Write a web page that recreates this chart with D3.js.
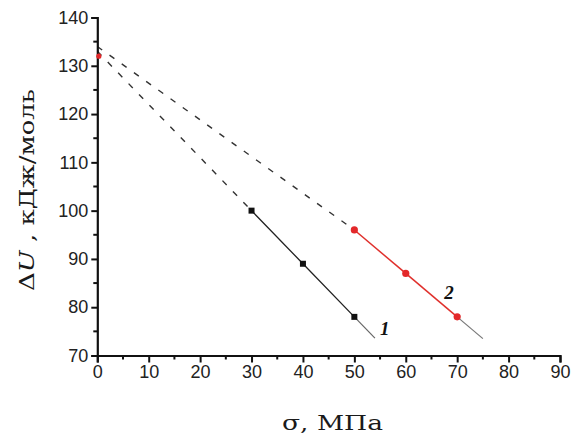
<!DOCTYPE html>
<html>
<head>
<meta charset="utf-8">
<script src="https://cdn.jsdelivr.net/npm/d3@7"></script>
<style>
  html, body { margin: 0; padding: 0; background: #fff; }
  svg { display: block; }
</style>
</head>
<body>
<svg id="chart" width="571" height="436"></svg>
<script>
// Series 1: measured points (black squares)
const stress1 = [30, 40, 50];
const energy1 = [100, 89, 78];
// Series 2: measured points (red circles)
const stress2 = [50, 60, 70];
const energy2 = [96, 87, 78];

// Extrapolation to zero stress (dashed) and fit-line continuation past the last point
const extrap1 = [[0, 133], [30, 100]];
const extrap2 = [[0, 134], [50, 96]];
const tail1 = [[50, 78], [54, 73.6]];
const tail2 = [[70, 78], [75, 73.5]];
const intercept2 = [0.3, 132];

const xTicks = [0, 10, 20, 30, 40, 50, 60, 70, 80, 90];
const yTicks = [70, 80, 90, 100, 110, 120, 130, 140];
const xMinor = [5, 15, 25, 35, 45, 55, 65, 75, 85];
const yMinor = [75, 85, 95, 105, 115, 125, 135];

const curveLabels = [
  { text: "1", x: 55.9, y: 74.2 },
  { text: "2", x: 68.4, y: 81.6 }
];

const svg = d3.select("#chart");
const x = d3.scaleLinear().domain([0, 90]).range([97.3, 560]);
const y = d3.scaleLinear().domain([70, 140]).range([355.5, 17.5]);

const line = d3.line().x(d => x(d[0])).y(d => y(d[1]));
const pts1 = stress1.map((s, i) => [s, energy1[i]]);
const pts2 = stress2.map((s, i) => [s, energy2[i]]);

// dashed extrapolations
svg.append("path").attr("d", line(extrap1))
  .attr("fill", "none").attr("stroke", "#333").attr("stroke-width", 1.4)
  .attr("stroke-dasharray", "6,9");
svg.append("path").attr("d", line(extrap2))
  .attr("fill", "none").attr("stroke", "#333").attr("stroke-width", 1.4)
  .attr("stroke-dasharray", "6,9");

// fit continuations
svg.append("path").attr("d", line(tail1))
  .attr("fill", "none").attr("stroke", "#666").attr("stroke-width", 1.2);
svg.append("path").attr("d", line(tail2))
  .attr("fill", "none").attr("stroke", "#777").attr("stroke-width", 1.2);

// connecting lines through the points
svg.append("path").attr("d", line(pts1))
  .attr("fill", "none").attr("stroke", "#222").attr("stroke-width", 1.3);
svg.append("path").attr("d", line(pts2))
  .attr("fill", "none").attr("stroke", "#e0302c").attr("stroke-width", 1.5);

// markers
svg.selectAll("rect.m1").data(pts1).enter().append("rect")
  .attr("class", "m1")
  .attr("x", d => x(d[0]) - 3).attr("y", d => y(d[1]) - 3)
  .attr("width", 6).attr("height", 6).attr("fill", "#111");
svg.selectAll("circle.m2").data(pts2).enter().append("circle")
  .attr("class", "m2")
  .attr("cx", d => x(d[0])).attr("cy", d => y(d[1]))
  .attr("r", 3.6).attr("fill", "#e3282a");

// axes
const xAxis = svg.append("g").attr("transform", `translate(0,${y(70)})`)
  .call(d3.axisBottom(x).tickValues(xTicks).tickSize(7).tickPadding(3).tickFormat(d3.format("d")));
xAxis.append("g").selectAll("line").data(xMinor).enter().append("line")
  .attr("x1", d => x(d)).attr("x2", d => x(d)).attr("y1", 0).attr("y2", 4)
  .attr("stroke", "#111").attr("stroke-width", 2);

const yAxis = svg.append("g").attr("transform", `translate(${x(0)},0)`)
  .call(d3.axisLeft(y).tickValues(yTicks).tickSize(6).tickPadding(3).tickFormat(d3.format("d")));
yAxis.append("g").selectAll("line").data(yMinor).enter().append("line")
  .attr("y1", d => y(d)).attr("y2", d => y(d)).attr("x1", 0).attr("x2", -4)
  .attr("stroke", "#111").attr("stroke-width", 2);

[xAxis, yAxis].forEach(g => {
  g.select(".domain").attr("stroke", "#111").attr("stroke-width", 2.2);
  g.selectAll(".tick line").attr("stroke", "#111").attr("stroke-width", 2);
  g.selectAll(".tick text").attr("fill", "#222")
    .style("font-family", "'Liberation Sans', Arial, sans-serif").style("font-size", "18px");
});

// intercept marker on the y axis
svg.append("circle").attr("cx", x(intercept2[0])).attr("cy", y(intercept2[1]))
  .attr("r", 2.6).attr("fill", "#e3282a");

// curve numbers
svg.selectAll("text.cl").data(curveLabels).enter().append("text")
  .attr("class", "cl")
  .attr("x", d => x(d.x)).attr("y", d => y(d.y))
  .attr("text-anchor", "middle")
  .style("font-family", "'Liberation Serif', 'Times New Roman', serif")
  .style("font-style", "italic").style("font-weight", "bold").style("font-size", "19px")
  .attr("fill", "#111")
  .text(d => d.text);

// axis titles
svg.append("text")
  .attr("x", 282).attr("y", 430)
  .attr("textLength", 101).attr("lengthAdjust", "spacingAndGlyphs")
  .style("font-family", "'DejaVu Serif', serif")
  .style("font-size", "20px").attr("fill", "#1a1a1a")
  .text("σ, МПа");

const yt = svg.append("text")
  .attr("transform", "translate(34,291) rotate(-90)")
  .attr("textLength", 202).attr("lengthAdjust", "spacingAndGlyphs")
  .style("font-family", "'DejaVu Serif', serif")
  .style("font-size", "21px").attr("fill", "#1a1a1a");
yt.append("tspan").text("Δ");
yt.append("tspan").style("font-style", "italic").text("U");
yt.append("tspan").text(" , кДж/моль");
</script>
</body>
</html>
